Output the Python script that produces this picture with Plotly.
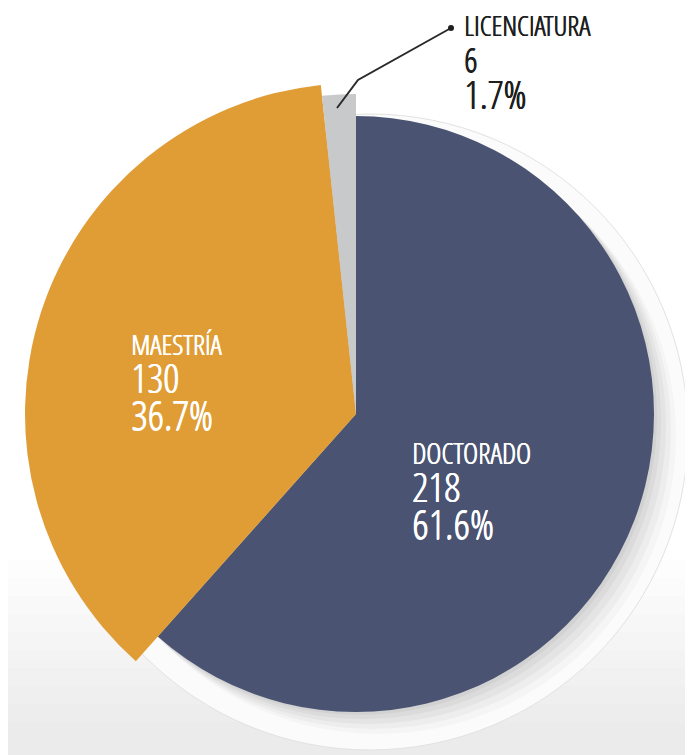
import plotly.graph_objects as go

labels = ["DOCTORADO", "MAESTRÍA", "LICENCIATURA"]
values = [218, 130, 6]
percents = ["61.6%", "36.7%", "1.7%"]
colors = ["#4a5472", "#e09d35", "#c8c9cb"]
radii_px = [298, 331, 320]   # per-slice drawn radius (stylised chart)

OFF = 8                       # page body margin of the html
W, H = 693 - OFF, 755 - OFF

def px(x):  # reference pixel x -> paper x
    return (x - OFF) / W

def py(y):  # reference pixel y (from top) -> paper y
    return 1 - (y - OFF) / H

cx, cy = 356, 414  # pie centre in reference pixels

fig = go.Figure()

# background: soft grey gradient towards the bottom
for k in range(10):
    fig.add_shape(type="rect", xref="paper", yref="paper", x0=-0.02, x1=1.02,
                  y0=-0.02, y1=py(560 + k * 18),
                  fillcolor="rgba(0,0,0,0.007)", line_width=0, layer="below")

def circ(xc, yc, r, fill, line="rgba(0,0,0,0)", lw=0):
    fig.add_shape(type="circle", xref="paper", yref="paper",
                  x0=px(xc - r), x1=px(xc + r), y0=py(yc + r), y1=py(yc - r),
                  fillcolor=fill, line=dict(color=line, width=lw), layer="below")

circ(370, 432, 318, "rgba(251,251,251,1)", "rgba(226,226,226,1)", 1)
for d, a in [(22, 0.025), (17, 0.03), (12, 0.035), (7, 0.04), (3, 0.04)]:
    circ(cx + d, cy + d, 298, f"rgba(0,0,0,{a})")

for i in range(len(labels)):
    r = radii_px[i]
    slice_colors = ["rgba(0,0,0,0)"] * len(labels)
    slice_colors[i] = colors[i]
    fig.add_trace(go.Pie(
        labels=labels, values=values,
        sort=False, direction="clockwise", rotation=0,
        marker=dict(colors=slice_colors, line=dict(width=0)),
        textinfo="none", hoverinfo="label+value+percent",
        showlegend=False,
        domain=dict(x=[px(cx - r), px(cx + r)], y=[py(cy + r), py(cy - r)]),
    ))

FONT = "Open Sans Condensed Light, DejaVu Sans Condensed, sans-serif"

def label_block(i, x, y_mid, color, s_title, s_val, s_pct, base):
    txt = (f"<span style='font-size:{s_title}px'>{labels[i]}</span><br>"
           f"<span style='font-size:{s_val}px'>{values[i]}</span><br>"
           f"<span style='font-size:{s_pct}px'>{percents[i]}</span>")
    fig.add_annotation(x=px(x), y=py(y_mid), xref="paper", yref="paper",
                       text=txt, showarrow=False, xanchor="left", yanchor="middle",
                       align="left", borderpad=0,
                       font=dict(family=FONT, size=base, color=color,
                                 shadow=f"0.7px 0 0 {color}, 0 0.4px 0 {color}"))

label_block(0, 411, 492, "white", 29, 40, 41, 29)
label_block(1, 130, 383, "white", 28, 40, 41, 29)
label_block(2, 463, 63, "#1e1e1e", 28, 33, 39, 28)

# leader line for LICENCIATURA
fig.add_shape(type="path", xref="paper", yref="paper",
              path=f"M {px(337)} {py(108)} L {px(358)} {py(80)} L {px(451)} {py(28)}",
              line=dict(color="#2a2a2a", width=2))
fig.add_shape(type="circle", xref="paper", yref="paper",
              x0=px(448), x1=px(454), y0=py(31), y1=py(25),
              fillcolor="#1e1e1e", line_width=0)

fig.update_layout(width=W, height=H, margin=dict(l=0, r=0, t=0, b=0),
                  paper_bgcolor="white", plot_bgcolor="white")
fig.write_html("out.html")
